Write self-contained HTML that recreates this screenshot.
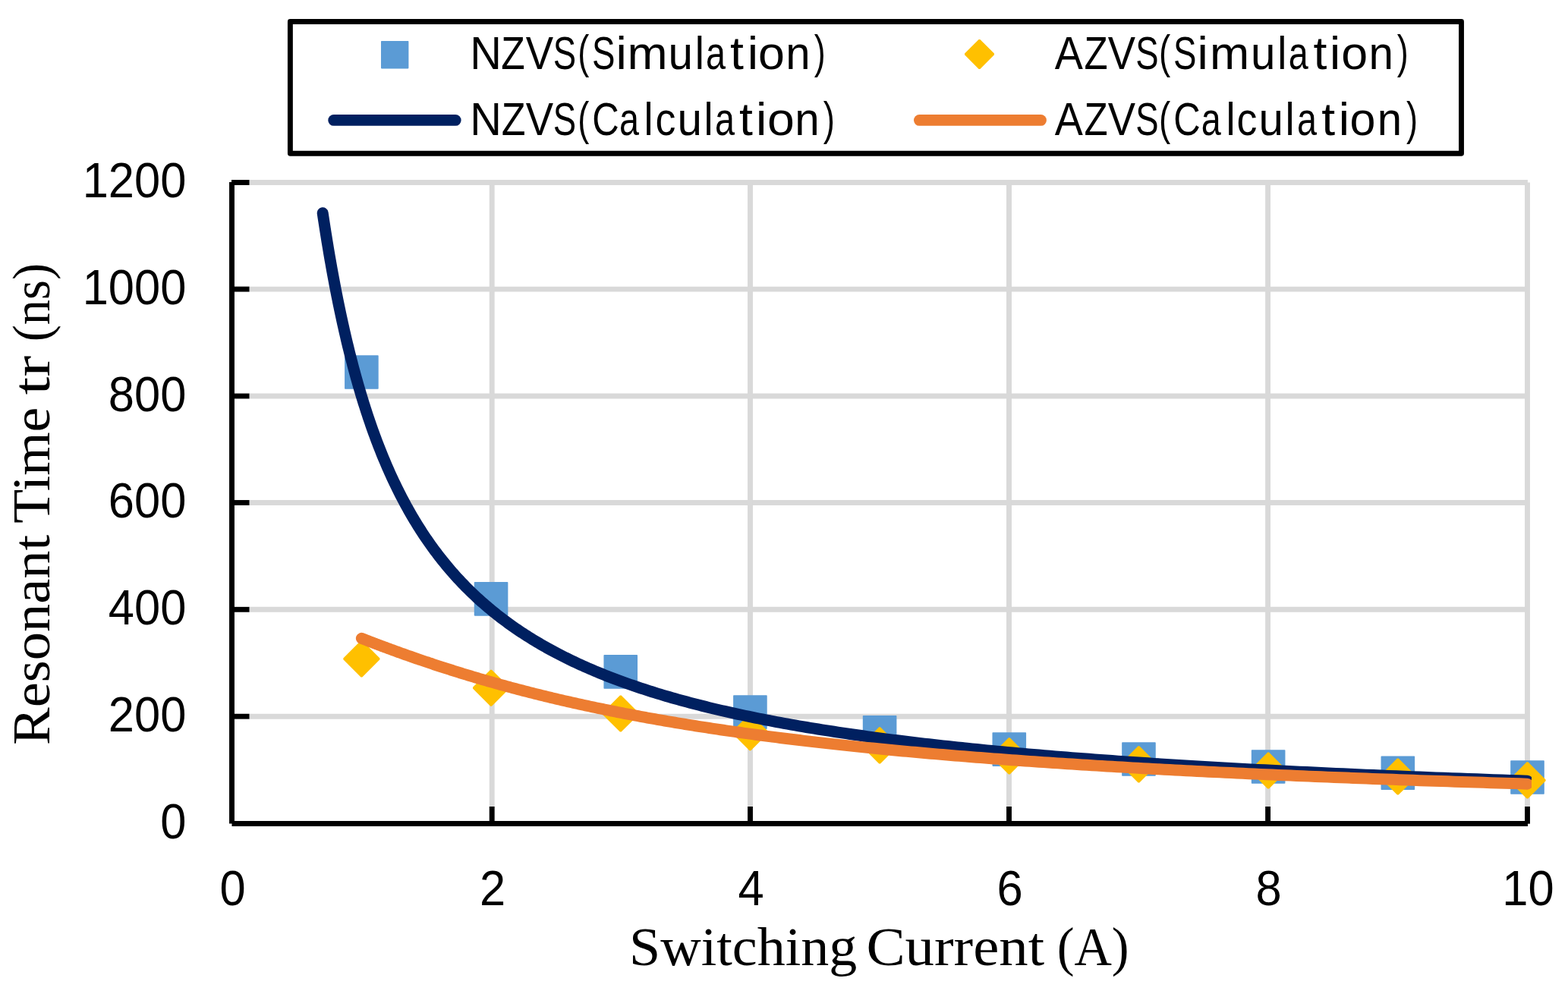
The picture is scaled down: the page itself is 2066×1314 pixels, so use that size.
<!DOCTYPE html>
<html><head><meta charset="utf-8"><title>Resonant Time vs Switching Current</title><style>html,body{margin:0;padding:0;background:#fff;overflow:hidden}svg{display:block}</style></head><body>
<svg width="2066" height="1314" viewBox="0 0 2066 1314">
<rect width="2066" height="1314" fill="#fff"/>
<g stroke="#D9D9D9" stroke-width="6.9"><line x1="328" y1="944.2" x2="2012.9" y2="944.2"/><line x1="328" y1="803.3" x2="2012.9" y2="803.3"/><line x1="328" y1="662.5" x2="2012.9" y2="662.5"/><line x1="328" y1="522.0" x2="2012.9" y2="522.0"/><line x1="328" y1="381.1" x2="2012.9" y2="381.1"/><line x1="328" y1="240.5" x2="2012.9" y2="240.5"/><line x1="648.2" y1="240.5" x2="648.2" y2="1063"/><line x1="988.5" y1="240.5" x2="988.5" y2="1063"/><line x1="1329.5" y1="240.5" x2="1329.5" y2="1063"/><line x1="1670.6" y1="240.5" x2="1670.6" y2="1063"/><line x1="2012.5" y1="240.5" x2="2012.5" y2="1063"/></g>
<g stroke="#000" stroke-width="6.9"><line x1="305.5" y1="240.1" x2="305.5" y2="1085.6"/><line x1="305.5" y1="1085.5" x2="2013" y2="1085.5"/><line x1="305" y1="944.2" x2="328.5" y2="944.2"/><line x1="305" y1="803.3" x2="328.5" y2="803.3"/><line x1="305" y1="662.5" x2="328.5" y2="662.5"/><line x1="305" y1="522.0" x2="328.5" y2="522.0"/><line x1="305" y1="381.1" x2="328.5" y2="381.1"/><line x1="305" y1="240.5" x2="328.5" y2="240.5"/><line x1="648.2" y1="1063" x2="648.2" y2="1085.7"/><line x1="988.5" y1="1063" x2="988.5" y2="1085.7"/><line x1="1329.5" y1="1063" x2="1329.5" y2="1085.7"/><line x1="1670.6" y1="1063" x2="1670.6" y2="1085.7"/><line x1="2012.5" y1="1063" x2="2012.5" y2="1085.7"/></g>
<g fill="#5B9BD5" stroke="#5B9BD5" stroke-width="1.6" stroke-linejoin="round"><rect x="454.88" y="468.99" width="43.00" height="43.00"/><rect x="625.56" y="767.83" width="43.00" height="43.00"/><rect x="796.24" y="863.88" width="43.00" height="43.00"/><rect x="966.92" y="917.11" width="43.00" height="43.00"/><rect x="1137.60" y="943.80" width="43.00" height="43.00"/><rect x="1308.28" y="966.12" width="43.00" height="43.00"/><rect x="1478.96" y="979.01" width="43.00" height="43.00"/><rect x="1649.64" y="989.01" width="43.00" height="43.00"/><rect x="1820.32" y="997.32" width="43.00" height="43.00"/><rect x="1991.00" y="1003.02" width="43.00" height="43.00"/></g>
<g fill="#FFC000" stroke="#FFC000" stroke-width="2.5" stroke-linejoin="bevel"><path d="M476.38,845.21 L499.58,868.41 L476.38,891.61 L453.18,868.41Z"/><path d="M647.06,883.52 L670.26,906.72 L647.06,929.92 L623.86,906.72Z"/><path d="M817.74,917.32 L840.94,940.52 L817.74,963.72 L794.54,940.52Z"/><path d="M988.42,942.03 L1011.62,965.23 L988.42,988.43 L965.22,965.23Z"/><path d="M1159.10,959.21 L1182.30,982.41 L1159.10,1005.61 L1135.90,982.41Z"/><path d="M1329.78,973.23 L1352.98,996.43 L1329.78,1019.63 L1306.58,996.43Z"/><path d="M1500.46,984.21 L1523.66,1007.41 L1500.46,1030.61 L1477.26,1007.41Z"/><path d="M1671.14,992.31 L1694.34,1015.51 L1671.14,1038.71 L1647.94,1015.51Z"/><path d="M1841.82,1000.33 L1865.02,1023.53 L1841.82,1046.73 L1818.62,1023.53Z"/><path d="M2012.50,1005.19 L2035.70,1028.39 L2012.50,1051.59 L1989.30,1028.39Z"/></g>
<clipPath id="pa"><rect x="300" y="200" width="1718" height="900"/></clipPath>
<g clip-path="url(#pa)" fill="none" stroke-linecap="round" stroke-linejoin="round"><path d="M425.18,280.76 L425.97,286.10 L426.78,291.41 L427.59,296.69 L428.40,301.93 L429.22,307.13 L430.05,312.30 L430.88,317.44 L431.72,322.54 L432.56,327.61 L433.41,332.64 L434.26,337.64 L435.12,342.61 L435.99,347.55 L436.86,352.45 L437.74,357.32 L438.62,362.16 L439.51,366.96 L440.40,371.73 L441.31,376.47 L442.21,381.18 L443.12,385.86 L444.04,390.51 L444.97,395.13 L445.90,399.71 L446.84,404.27 L447.78,408.79 L448.73,413.29 L449.69,417.75 L450.65,422.19 L451.62,426.60 L452.60,430.97 L453.58,435.32 L454.57,439.64 L455.56,443.93 L456.56,448.19 L457.57,452.42 L458.59,456.63 L459.61,460.81 L460.64,464.96 L461.68,469.08 L462.72,473.17 L463.77,477.24 L464.83,481.28 L465.89,485.30 L466.96,489.28 L468.04,493.24 L469.13,497.18 L470.22,501.08 L471.32,504.97 L472.43,508.82 L473.54,512.65 L474.66,516.46 L475.79,520.24 L476.93,523.99 L478.08,527.72 L479.23,531.43 L480.39,535.11 L481.56,538.77 L482.73,542.40 L483.92,546.00 L485.11,549.59 L486.31,553.15 L487.52,556.68 L488.73,560.20 L489.96,563.69 L491.19,567.15 L492.43,570.60 L493.68,574.02 L494.93,577.41 L496.20,580.79 L497.47,584.14 L498.76,587.47 L500.05,590.78 L501.35,594.07 L502.66,597.33 L503.97,600.57 L505.30,603.79 L506.63,606.99 L507.98,610.17 L509.33,613.33 L510.69,616.47 L512.06,619.58 L513.44,622.68 L514.83,625.75 L516.23,628.81 L517.64,631.84 L519.05,634.85 L520.48,637.85 L521.92,640.82 L523.36,643.77 L524.82,646.71 L526.28,649.62 L527.76,652.52 L529.24,655.39 L530.74,658.25 L532.24,661.09 L533.76,663.91 L535.28,666.71 L536.82,669.49 L538.36,672.25 L539.92,675.00 L541.49,677.73 L543.06,680.44 L544.65,683.13 L546.25,685.80 L547.86,688.45 L549.48,691.09 L551.11,693.71 L552.75,696.31 L554.40,698.90 L556.06,701.47 L557.74,704.02 L559.42,706.55 L561.12,709.07 L562.83,711.57 L564.55,714.05 L566.28,716.52 L568.02,718.97 L569.77,721.41 L571.54,723.83 L573.32,726.23 L575.11,728.61 L576.91,730.98 L578.72,733.34 L580.55,735.68 L582.39,738.00 L584.24,740.31 L586.10,742.60 L587.97,744.88 L589.86,747.14 L591.76,749.39 L593.67,751.62 L595.60,753.84 L597.54,756.05 L599.49,758.23 L601.45,760.41 L603.43,762.57 L605.42,764.71 L607.43,766.84 L609.45,768.96 L611.48,771.06 L613.52,773.15 L615.58,775.23 L617.65,777.29 L619.74,779.33 L621.84,781.37 L623.95,783.39 L626.08,785.40 L628.22,787.39 L630.38,789.37 L632.55,791.34 L634.74,793.29 L636.94,795.23 L639.15,797.16 L641.38,799.07 L643.63,800.98 L645.89,802.87 L648.16,804.74 L650.45,806.61 L652.76,808.46 L655.08,810.30 L657.41,812.13 L659.76,813.95 L662.13,815.75 L664.52,817.54 L666.92,819.32 L669.33,821.09 L671.76,822.85 L674.21,824.59 L676.67,826.32 L679.16,828.05 L681.65,829.76 L684.17,831.46 L686.70,833.14 L689.25,834.82 L691.81,836.48 L694.39,838.14 L696.99,839.78 L699.61,841.41 L702.24,843.04 L704.89,844.65 L707.56,846.25 L710.25,847.83 L712.96,849.41 L715.68,850.98 L718.42,852.54 L721.18,854.09 L723.96,855.62 L726.76,857.15 L729.57,858.67 L732.41,860.18 L735.26,861.67 L738.13,863.16 L741.02,864.64 L743.93,866.10 L746.86,867.56 L749.81,869.01 L752.78,870.45 L755.77,871.87 L758.78,873.29 L761.81,874.70 L764.86,876.10 L767.93,877.49 L771.03,878.88 L774.14,880.25 L777.27,881.61 L780.42,882.97 L783.60,884.31 L786.79,885.65 L790.01,886.98 L793.25,888.29 L796.51,889.60 L799.79,890.91 L803.10,892.20 L806.42,893.48 L809.77,894.76 L813.14,896.02 L816.53,897.28 L819.95,898.53 L823.39,899.78 L826.85,901.01 L830.34,902.23 L833.84,903.45 L837.38,904.66 L840.93,905.86 L844.51,907.06 L848.11,908.24 L851.74,909.42 L855.39,910.59 L859.07,911.75 L862.77,912.90 L866.49,914.05 L870.24,915.19 L874.02,916.32 L877.82,917.44 L881.64,918.56 L885.50,919.67 L889.37,920.77 L893.28,921.87 L897.21,922.95 L901.16,924.03 L905.14,925.11 L909.15,926.17 L913.19,927.23 L917.25,928.28 L921.34,929.32 L925.45,930.36 L929.60,931.39 L933.77,932.42 L937.97,933.43 L942.20,934.44 L946.46,935.45 L950.74,936.44 L955.05,937.43 L959.40,938.42 L963.77,939.39 L968.17,940.36 L972.60,941.33 L977.06,942.29 L981.55,943.24 L986.07,944.18 L990.62,945.12 L995.20,946.05 L999.81,946.98 L1004.45,947.90 L1009.12,948.81 L1013.82,949.72 L1018.56,950.62 L1023.33,951.52 L1028.13,952.41 L1032.96,953.29 L1037.82,954.17 L1042.72,955.04 L1047.64,955.91 L1052.61,956.77 L1057.60,957.63 L1062.63,958.48 L1067.69,959.32 L1072.79,960.16 L1077.91,960.99 L1083.08,961.82 L1088.28,962.64 L1093.51,963.46 L1098.78,964.27 L1104.08,965.07 L1109.42,965.87 L1114.80,966.67 L1120.21,967.46 L1125.65,968.24 L1131.14,969.02 L1136.66,969.79 L1142.21,970.56 L1147.81,971.32 L1153.44,972.08 L1159.11,972.84 L1164.81,973.59 L1170.56,974.33 L1176.34,975.07 L1182.16,975.80 L1188.02,976.53 L1193.92,977.25 L1199.86,977.97 L1205.84,978.69 L1211.86,979.40 L1217.92,980.10 L1224.02,980.80 L1230.16,981.50 L1236.34,982.19 L1242.57,982.87 L1248.83,983.56 L1255.14,984.23 L1261.49,984.91 L1267.88,985.57 L1274.31,986.24 L1280.79,986.90 L1287.31,987.55 L1293.88,988.20 L1300.48,988.85 L1307.14,989.49 L1313.83,990.13 L1320.57,990.76 L1327.36,991.39 L1334.19,992.02 L1341.07,992.64 L1347.99,993.25 L1354.96,993.87 L1361.98,994.48 L1369.04,995.08 L1376.15,995.68 L1383.31,996.28 L1390.52,996.87 L1397.77,997.46 L1405.08,998.04 L1412.43,998.62 L1419.83,999.20 L1427.28,999.77 L1434.78,1000.34 L1442.33,1000.91 L1449.93,1001.47 L1457.58,1002.03 L1465.28,1002.58 L1473.04,1003.14 L1480.84,1003.68 L1488.70,1004.23 L1496.61,1004.77 L1504.58,1005.30 L1512.59,1005.83 L1520.66,1006.36 L1528.79,1006.89 L1536.97,1007.41 L1545.20,1007.93 L1553.49,1008.45 L1561.83,1008.96 L1570.23,1009.47 L1578.69,1009.97 L1587.20,1010.47 L1595.77,1010.97 L1604.40,1011.47 L1613.08,1011.96 L1621.83,1012.45 L1630.63,1012.93 L1639.49,1013.41 L1648.41,1013.89 L1657.38,1014.37 L1666.42,1014.84 L1675.52,1015.31 L1684.68,1015.78 L1693.90,1016.24 L1703.19,1016.70 L1712.53,1017.16 L1721.94,1017.61 L1731.41,1018.06 L1740.94,1018.51 L1750.54,1018.95 L1760.20,1019.40 L1769.93,1019.84 L1779.72,1020.27 L1789.58,1020.71 L1799.50,1021.14 L1809.49,1021.56 L1819.55,1021.99 L1829.67,1022.41 L1839.86,1022.83 L1850.12,1023.25 L1860.45,1023.66 L1870.84,1024.07 L1881.31,1024.48 L1891.85,1024.88 L1902.45,1025.29 L1913.13,1025.69 L1923.88,1026.08 L1934.70,1026.48 L1945.59,1026.87 L1956.56,1027.26 L1967.60,1027.65 L1978.71,1028.03 L1989.90,1028.41 L2001.16,1028.79 L2012.50,1029.17" stroke="#002060" stroke-width="15"/>
<path d="M476.38,841.31 L477.37,841.70 L478.36,842.08 L479.36,842.47 L480.37,842.86 L481.38,843.25 L482.39,843.65 L483.42,844.04 L484.44,844.44 L485.48,844.83 L486.52,845.23 L487.57,845.64 L488.62,846.04 L489.68,846.44 L490.74,846.85 L491.81,847.26 L492.89,847.67 L493.97,848.08 L495.06,848.49 L496.16,848.91 L497.26,849.32 L498.37,849.74 L499.49,850.16 L500.61,850.58 L501.73,851.00 L502.87,851.43 L504.01,851.85 L505.16,852.28 L506.31,852.71 L507.47,853.14 L508.64,853.58 L509.82,854.01 L511.00,854.45 L512.19,854.89 L513.38,855.33 L514.58,855.77 L515.79,856.21 L517.01,856.66 L518.23,857.10 L519.46,857.55 L520.70,858.00 L521.94,858.45 L523.19,858.90 L524.45,859.36 L525.72,859.81 L526.99,860.27 L528.27,860.73 L529.56,861.19 L530.86,861.66 L532.16,862.12 L533.47,862.59 L534.79,863.05 L536.11,863.52 L537.45,863.99 L538.79,864.47 L540.14,864.94 L541.49,865.42 L542.86,865.89 L544.23,866.37 L545.61,866.85 L547.00,867.33 L548.40,867.82 L549.80,868.30 L551.21,868.79 L552.64,869.28 L554.06,869.77 L555.50,870.26 L556.95,870.75 L558.40,871.24 L559.86,871.74 L561.34,872.24 L562.82,872.73 L564.30,873.23 L565.80,873.74 L567.31,874.24 L568.82,874.74 L570.34,875.25 L571.87,875.76 L573.41,876.27 L574.96,876.78 L576.52,877.29 L578.09,877.80 L579.67,878.32 L581.25,878.83 L582.85,879.35 L584.45,879.87 L586.06,880.39 L587.69,880.91 L589.32,881.43 L590.96,881.95 L592.61,882.48 L594.27,883.01 L595.94,883.53 L597.62,884.06 L599.31,884.59 L601.01,885.12 L602.72,885.66 L604.44,886.19 L606.17,886.73 L607.91,887.26 L609.65,887.80 L611.41,888.34 L613.18,888.88 L614.96,889.42 L616.75,889.96 L618.55,890.51 L620.36,891.05 L622.18,891.60 L624.02,892.14 L625.86,892.69 L627.71,893.24 L629.58,893.79 L631.45,894.34 L633.34,894.89 L635.23,895.45 L637.14,896.00 L639.06,896.55 L640.99,897.11 L642.93,897.67 L644.88,898.22 L646.84,898.78 L648.82,899.34 L650.80,899.90 L652.80,900.46 L654.81,901.03 L656.83,901.59 L658.86,902.15 L660.90,902.72 L662.96,903.28 L665.03,903.85 L667.11,904.42 L669.20,904.98 L671.30,905.55 L673.42,906.12 L675.55,906.69 L677.69,907.26 L679.84,907.83 L682.01,908.40 L684.18,908.98 L686.37,909.55 L688.58,910.12 L690.79,910.70 L693.02,911.27 L695.26,911.85 L697.52,912.42 L699.79,913.00 L702.07,913.57 L704.36,914.15 L706.67,914.73 L708.99,915.31 L711.32,915.88 L713.67,916.46 L716.03,917.04 L718.41,917.62 L720.80,918.20 L723.20,918.78 L725.61,919.36 L728.04,919.94 L730.49,920.52 L732.95,921.10 L735.42,921.68 L737.91,922.26 L740.41,922.84 L742.92,923.43 L745.45,924.01 L748.00,924.59 L750.56,925.17 L753.13,925.75 L755.72,926.33 L758.33,926.92 L760.95,927.50 L763.58,928.08 L766.23,928.66 L768.90,929.24 L771.58,929.83 L774.28,930.41 L776.99,930.99 L779.71,931.57 L782.46,932.15 L785.22,932.73 L787.99,933.31 L790.78,933.89 L793.59,934.47 L796.41,935.05 L799.25,935.63 L802.11,936.21 L804.98,936.79 L807.87,937.37 L810.78,937.95 L813.70,938.53 L816.64,939.11 L819.60,939.69 L822.58,940.26 L825.57,940.84 L828.58,941.42 L831.60,941.99 L834.65,942.57 L837.71,943.14 L840.79,943.72 L843.88,944.29 L847.00,944.86 L850.13,945.44 L853.28,946.01 L856.45,946.58 L859.64,947.15 L862.84,947.72 L866.07,948.29 L869.31,948.86 L872.57,949.43 L875.85,949.99 L879.15,950.56 L882.47,951.13 L885.81,951.69 L889.17,952.26 L892.55,952.82 L895.94,953.38 L899.36,953.94 L902.79,954.50 L906.25,955.06 L909.72,955.62 L913.22,956.18 L916.74,956.74 L920.27,957.30 L923.83,957.85 L927.41,958.41 L931.01,958.96 L934.62,959.51 L938.26,960.06 L941.93,960.61 L945.61,961.16 L949.31,961.71 L953.04,962.26 L956.78,962.81 L960.55,963.35 L964.34,963.90 L968.15,964.44 L971.99,964.98 L975.84,965.52 L979.72,966.06 L983.62,966.60 L987.55,967.14 L991.49,967.67 L995.46,968.21 L999.45,968.74 L1003.47,969.27 L1007.51,969.81 L1011.57,970.34 L1015.65,970.86 L1019.76,971.39 L1023.90,971.92 L1028.05,972.44 L1032.23,972.97 L1036.44,973.49 L1040.67,974.01 L1044.92,974.53 L1049.20,975.05 L1053.50,975.56 L1057.83,976.08 L1062.18,976.59 L1066.56,977.10 L1070.96,977.62 L1075.39,978.12 L1079.85,978.63 L1084.33,979.14 L1088.84,979.65 L1093.37,980.15 L1097.93,980.65 L1102.51,981.15 L1107.12,981.65 L1111.76,982.15 L1116.43,982.65 L1121.12,983.14 L1125.84,983.64 L1130.58,984.13 L1135.36,984.62 L1140.16,985.11 L1144.99,985.60 L1149.85,986.08 L1154.73,986.57 L1159.65,987.05 L1164.59,987.53 L1169.56,988.01 L1174.56,988.49 L1179.59,988.96 L1184.65,989.44 L1189.73,989.91 L1194.85,990.38 L1200.00,990.85 L1205.17,991.32 L1210.38,991.79 L1215.61,992.26 L1220.88,992.72 L1226.18,993.18 L1231.50,993.64 L1236.86,994.10 L1242.25,994.56 L1247.67,995.01 L1253.12,995.47 L1258.61,995.92 L1264.12,996.37 L1269.67,996.82 L1275.25,997.27 L1280.86,997.71 L1286.50,998.16 L1292.18,998.60 L1297.89,999.04 L1303.63,999.48 L1309.41,999.92 L1315.21,1000.35 L1321.06,1000.79 L1326.93,1001.22 L1332.84,1001.65 L1338.79,1002.08 L1344.77,1002.51 L1350.78,1002.93 L1356.83,1003.36 L1362.91,1003.78 L1369.03,1004.20 L1375.19,1004.62 L1381.38,1005.04 L1387.60,1005.45 L1393.86,1005.87 L1400.16,1006.28 L1406.49,1006.69 L1412.87,1007.10 L1419.27,1007.51 L1425.72,1007.91 L1432.20,1008.32 L1438.72,1008.72 L1445.28,1009.12 L1451.87,1009.52 L1458.51,1009.92 L1465.18,1010.31 L1471.89,1010.71 L1478.64,1011.10 L1485.43,1011.49 L1492.26,1011.88 L1499.12,1012.27 L1506.03,1012.65 L1512.98,1013.03 L1519.96,1013.42 L1526.99,1013.80 L1534.06,1014.18 L1541.17,1014.55 L1548.32,1014.93 L1555.51,1015.30 L1562.74,1015.68 L1570.02,1016.05 L1577.34,1016.42 L1584.70,1016.78 L1592.10,1017.15 L1599.54,1017.51 L1607.03,1017.88 L1614.56,1018.24 L1622.14,1018.60 L1629.76,1018.95 L1637.42,1019.31 L1645.13,1019.66 L1652.88,1020.02 L1660.68,1020.37 L1668.52,1020.72 L1676.41,1021.06 L1684.34,1021.41 L1692.32,1021.76 L1700.34,1022.10 L1708.42,1022.44 L1716.53,1022.78 L1724.70,1023.12 L1732.91,1023.45 L1741.17,1023.79 L1749.48,1024.12 L1757.84,1024.46 L1766.24,1024.79 L1774.69,1025.11 L1783.19,1025.44 L1791.75,1025.77 L1800.35,1026.09 L1809.00,1026.41 L1817.70,1026.73 L1826.45,1027.05 L1835.25,1027.37 L1844.10,1027.69 L1853.01,1028.00 L1861.96,1028.32 L1870.97,1028.63 L1880.03,1028.94 L1889.14,1029.25 L1898.30,1029.56 L1907.52,1029.86 L1916.79,1030.17 L1926.11,1030.47 L1935.49,1030.77 L1944.93,1031.07 L1954.41,1031.37 L1963.95,1031.66 L1973.55,1031.96 L1983.21,1032.25 L1992.91,1032.55 L2002.68,1032.84 L2012.50,1033.13" stroke="#ED7D31" stroke-width="15"/></g>
<rect x="382.4" y="28.5" width="1543.1" height="173.8" fill="none" stroke="#000" stroke-width="6.9" stroke-linejoin="round"/>
<rect x="502.8" y="54.8" width="34.8" height="34.8" fill="#5B9BD5" stroke="#5B9BD5" stroke-width="1.6" stroke-linejoin="round"/>
<path d="M1290.5,52.800000000000004 L1309.1,71.4 L1290.5,90.0 L1271.9,71.4Z" fill="#FFC000" stroke="#FFC000" stroke-width="2.5" stroke-linejoin="bevel"/>
<line x1="439.7" y1="158.4" x2="600.2" y2="158.4" stroke="#002060" stroke-width="14.8" stroke-linecap="round"/>
<line x1="1211.4" y1="158.4" x2="1371.5" y2="158.4" stroke="#ED7D31" stroke-width="14.8" stroke-linecap="round"/>
<text y="90.7" font-family="'Liberation Sans', sans-serif" font-size="60.8"><tspan x="619.17" y="90.7" textLength="41.63" lengthAdjust="spacingAndGlyphs">N</tspan><tspan x="660.17" y="90.7" textLength="31.44" lengthAdjust="spacingAndGlyphs">Z</tspan><tspan x="692.76" y="90.7" textLength="36.38" lengthAdjust="spacingAndGlyphs">V</tspan><tspan x="728.83" y="90.7" textLength="30.36" lengthAdjust="spacingAndGlyphs">S</tspan><tspan x="761.19" y="89.3" textLength="15.07" lengthAdjust="spacingAndGlyphs">(</tspan><tspan x="779.93" y="90.7" textLength="30.47" lengthAdjust="spacingAndGlyphs">S</tspan><tspan x="811.56" y="90.7" textLength="14.32" lengthAdjust="spacingAndGlyphs">i</tspan><tspan x="826.46" y="90.7" textLength="53.14" lengthAdjust="spacingAndGlyphs">m</tspan><tspan x="880.41" y="90.7" textLength="32.47" lengthAdjust="spacingAndGlyphs">u</tspan><tspan x="915.72" y="90.7" textLength="12.13" lengthAdjust="spacingAndGlyphs">l</tspan><tspan x="930.12" y="90.7" textLength="25.98" lengthAdjust="spacingAndGlyphs">a</tspan><tspan x="962.10" y="90.7" textLength="17.91" lengthAdjust="spacingAndGlyphs">t</tspan><tspan x="984.86" y="90.7" textLength="14.32" lengthAdjust="spacingAndGlyphs">i</tspan><tspan x="998.97" y="90.7" textLength="34.86" lengthAdjust="spacingAndGlyphs">o</tspan><tspan x="1035.34" y="90.7" textLength="32.34" lengthAdjust="spacingAndGlyphs">n</tspan><tspan x="1072.84" y="89.3" textLength="14.95" lengthAdjust="spacingAndGlyphs">)</tspan></text>
<text y="178.1" font-family="'Liberation Sans', sans-serif" font-size="60.8"><tspan x="619.17" y="178.1" textLength="41.63" lengthAdjust="spacingAndGlyphs">N</tspan><tspan x="660.75" y="178.1" textLength="31.78" lengthAdjust="spacingAndGlyphs">Z</tspan><tspan x="692.76" y="178.1" textLength="36.38" lengthAdjust="spacingAndGlyphs">V</tspan><tspan x="728.83" y="178.1" textLength="30.36" lengthAdjust="spacingAndGlyphs">S</tspan><tspan x="761.19" y="176.7" textLength="15.07" lengthAdjust="spacingAndGlyphs">(</tspan><tspan x="780.31" y="178.1" textLength="35.46" lengthAdjust="spacingAndGlyphs">C</tspan><tspan x="815.92" y="178.1" textLength="25.98" lengthAdjust="spacingAndGlyphs">a</tspan><tspan x="848.62" y="178.1" textLength="12.13" lengthAdjust="spacingAndGlyphs">l</tspan><tspan x="863.51" y="178.1" textLength="26.90" lengthAdjust="spacingAndGlyphs">c</tspan><tspan x="892.41" y="178.1" textLength="32.47" lengthAdjust="spacingAndGlyphs">u</tspan><tspan x="927.62" y="178.1" textLength="12.13" lengthAdjust="spacingAndGlyphs">l</tspan><tspan x="942.12" y="178.1" textLength="25.98" lengthAdjust="spacingAndGlyphs">a</tspan><tspan x="974.05" y="178.1" textLength="17.91" lengthAdjust="spacingAndGlyphs">t</tspan><tspan x="996.06" y="178.1" textLength="14.32" lengthAdjust="spacingAndGlyphs">i</tspan><tspan x="1010.90" y="178.1" textLength="35.81" lengthAdjust="spacingAndGlyphs">o</tspan><tspan x="1047.22" y="178.1" textLength="32.47" lengthAdjust="spacingAndGlyphs">n</tspan><tspan x="1084.73" y="176.7" textLength="15.20" lengthAdjust="spacingAndGlyphs">)</tspan></text>
<text y="90.7" font-family="'Liberation Sans', sans-serif" font-size="60.8"><tspan x="1389.79" y="90.7" textLength="37.12" lengthAdjust="spacingAndGlyphs">A</tspan><tspan x="1428.48" y="90.7" textLength="31.11" lengthAdjust="spacingAndGlyphs">Z</tspan><tspan x="1459.66" y="90.7" textLength="36.28" lengthAdjust="spacingAndGlyphs">V</tspan><tspan x="1496.23" y="90.7" textLength="30.36" lengthAdjust="spacingAndGlyphs">S</tspan><tspan x="1526.97" y="89.3" textLength="15.20" lengthAdjust="spacingAndGlyphs">(</tspan><tspan x="1545.93" y="90.7" textLength="30.47" lengthAdjust="spacingAndGlyphs">S</tspan><tspan x="1577.56" y="90.7" textLength="14.32" lengthAdjust="spacingAndGlyphs">i</tspan><tspan x="1594.14" y="90.7" textLength="52.19" lengthAdjust="spacingAndGlyphs">m</tspan><tspan x="1648.01" y="90.7" textLength="32.47" lengthAdjust="spacingAndGlyphs">u</tspan><tspan x="1683.22" y="90.7" textLength="12.13" lengthAdjust="spacingAndGlyphs">l</tspan><tspan x="1697.72" y="90.7" textLength="25.98" lengthAdjust="spacingAndGlyphs">a</tspan><tspan x="1730.50" y="90.7" textLength="17.91" lengthAdjust="spacingAndGlyphs">t</tspan><tspan x="1752.14" y="90.7" textLength="14.16" lengthAdjust="spacingAndGlyphs">i</tspan><tspan x="1767.37" y="90.7" textLength="34.86" lengthAdjust="spacingAndGlyphs">o</tspan><tspan x="1803.62" y="90.7" textLength="32.47" lengthAdjust="spacingAndGlyphs">n</tspan><tspan x="1840.84" y="89.3" textLength="14.95" lengthAdjust="spacingAndGlyphs">)</tspan></text>
<text y="178.1" font-family="'Liberation Sans', sans-serif" font-size="60.8"><tspan x="1389.79" y="178.1" textLength="37.12" lengthAdjust="spacingAndGlyphs">A</tspan><tspan x="1428.48" y="178.1" textLength="31.11" lengthAdjust="spacingAndGlyphs">Z</tspan><tspan x="1459.66" y="178.1" textLength="36.28" lengthAdjust="spacingAndGlyphs">V</tspan><tspan x="1496.23" y="178.1" textLength="30.36" lengthAdjust="spacingAndGlyphs">S</tspan><tspan x="1526.97" y="176.7" textLength="15.20" lengthAdjust="spacingAndGlyphs">(</tspan><tspan x="1546.31" y="178.1" textLength="35.46" lengthAdjust="spacingAndGlyphs">C</tspan><tspan x="1582.72" y="178.1" textLength="25.98" lengthAdjust="spacingAndGlyphs">a</tspan><tspan x="1615.42" y="178.1" textLength="12.13" lengthAdjust="spacingAndGlyphs">l</tspan><tspan x="1629.51" y="178.1" textLength="26.90" lengthAdjust="spacingAndGlyphs">c</tspan><tspan x="1658.41" y="178.1" textLength="32.47" lengthAdjust="spacingAndGlyphs">u</tspan><tspan x="1693.62" y="178.1" textLength="12.13" lengthAdjust="spacingAndGlyphs">l</tspan><tspan x="1708.92" y="178.1" textLength="25.98" lengthAdjust="spacingAndGlyphs">a</tspan><tspan x="1741.25" y="178.1" textLength="17.91" lengthAdjust="spacingAndGlyphs">t</tspan><tspan x="1763.66" y="178.1" textLength="14.32" lengthAdjust="spacingAndGlyphs">i</tspan><tspan x="1778.64" y="178.1" textLength="33.92" lengthAdjust="spacingAndGlyphs">o</tspan><tspan x="1814.84" y="178.1" textLength="32.34" lengthAdjust="spacingAndGlyphs">n</tspan><tspan x="1852.93" y="176.7" textLength="15.07" lengthAdjust="spacingAndGlyphs">)</tspan></text>
<text transform="translate(245.3,1105.3) scale(0.96,1)" font-family="'Liberation Sans', sans-serif" font-size="64.0" text-anchor="end">0</text>
<text transform="translate(245.3,964.0) scale(0.96,1)" font-family="'Liberation Sans', sans-serif" font-size="64.0" text-anchor="end">200</text>
<text transform="translate(245.3,823.1) scale(0.96,1)" font-family="'Liberation Sans', sans-serif" font-size="64.0" text-anchor="end">400</text>
<text transform="translate(245.3,682.3) scale(0.96,1)" font-family="'Liberation Sans', sans-serif" font-size="64.0" text-anchor="end">600</text>
<text transform="translate(245.3,541.8) scale(0.96,1)" font-family="'Liberation Sans', sans-serif" font-size="64.0" text-anchor="end">800</text>
<text transform="translate(245.3,400.9) scale(0.96,1)" font-family="'Liberation Sans', sans-serif" font-size="64.0" text-anchor="end">1000</text>
<text transform="translate(245.3,260.3) scale(0.96,1)" font-family="'Liberation Sans', sans-serif" font-size="64.0" text-anchor="end">1200</text>
<text transform="translate(306.7,1192.5) scale(0.96,1)" font-family="'Liberation Sans', sans-serif" font-size="64.0" text-anchor="middle">0</text>
<text transform="translate(649.2,1192.5) scale(0.96,1)" font-family="'Liberation Sans', sans-serif" font-size="64.0" text-anchor="middle">2</text>
<text transform="translate(989.5,1192.5) scale(0.96,1)" font-family="'Liberation Sans', sans-serif" font-size="64.0" text-anchor="middle">4</text>
<text transform="translate(1330.5,1192.5) scale(0.96,1)" font-family="'Liberation Sans', sans-serif" font-size="64.0" text-anchor="middle">6</text>
<text transform="translate(1671.6,1192.5) scale(0.96,1)" font-family="'Liberation Sans', sans-serif" font-size="64.0" text-anchor="middle">8</text>
<text transform="translate(2013.5,1192.5) scale(0.96,1)" font-family="'Liberation Sans', sans-serif" font-size="64.0" text-anchor="middle">10</text>
<text y="1272.3" font-family="'Liberation Serif', serif" font-size="71"><tspan x="828.99" textLength="300.29" lengthAdjust="spacingAndGlyphs">Switching</tspan> <tspan x="1141.40" textLength="234.60" lengthAdjust="spacingAndGlyphs">Current</tspan> <tspan x="1392.64" textLength="94.86" lengthAdjust="spacingAndGlyphs">(A)</tspan></text>
<text transform="translate(65.4,0) rotate(-90)" y="0" font-family="'Liberation Serif', serif" font-size="70.5"><tspan x="-981.98" textLength="277.05" lengthAdjust="spacingAndGlyphs">Resonant</tspan> <tspan x="-689.81" textLength="153.01" lengthAdjust="spacingAndGlyphs">Time</tspan> <tspan x="-520.24" textLength="51.47" lengthAdjust="spacingAndGlyphs">tr</tspan> <tspan x="-450.33" textLength="103.42" lengthAdjust="spacingAndGlyphs">(ns)</tspan></text>
</svg>
</body></html>
